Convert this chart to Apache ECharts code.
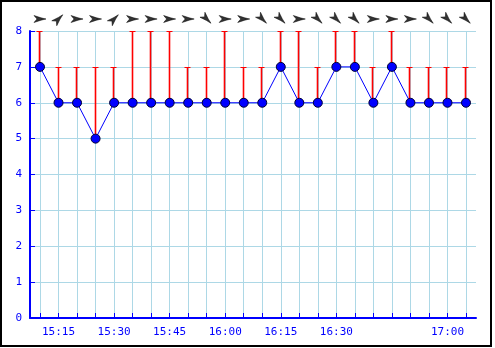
<!DOCTYPE html>
<html><head><meta charset="utf-8">
<script src="https://cdn.jsdelivr.net/npm/echarts@6/dist/echarts.min.js"></script>
<style>html,body{margin:0;padding:0;background:#fff}#c{width:495px;height:348px}</style>
</head><body><div id="c"></div>
<script>
// ---- data ----
const times = ['15:10','15:15','15:20','15:25','15:30','15:35','15:40','15:45','15:50','15:55',
               '16:00','16:05','16:10','16:15','16:20','16:25','16:30','16:35','16:40','16:45',
               '16:50','16:55','17:00','17:05'];
const speed = [7,6,6,5,6,6,6,6,6,6,6,6,6,7,6,6,7,7,6,7,6,6,6,6];
const gust  = [8,7,7,7,7,8,8,8,7,7,8,7,7,8,8,7,8,8,7,8,7,7,7,7];
const dirs  = ['E','NE','E','E','NE','E','E','E','E','SE','E','E','SE','SE','E','SE','SE','SE','E','E','E','SE','SE','SE'];
const xLabels = ['15:15','15:30','15:45','16:00','16:15','16:30','17:00'];
const yMin = 0, yMax = 8, yStep = 1;

// ---- helpers ----
const toMin = s => { const [h, m] = s.split(':').map(Number); return h * 60 + m; };
const fmt = v => { const r = Math.round(v); const h = Math.floor(r / 60), m = r % 60; return h + ':' + String(m).padStart(2, '0'); };
const xs = times.map(toMin);
const xMin = xs[0] - 2.7, xMax = xs[xs.length - 1] + 2.7;
const rot = { E: 0, NE: 45, SE: -45 };
const BLUE = '#0000ff', GRID = '#add8e6';
const font = { fontFamily: 'DejaVu Sans Mono', fontSize: 11, color: BLUE };

const chart = echarts.init(document.getElementById('c'), null, { renderer: 'canvas' });
chart.setOption({
  animation: false,
  backgroundColor: '#fff',
  graphic: [{ type: 'rect', shape: { x: 1, y: 1, width: 490, height: 345 }, style: { fill: 'none', stroke: '#000', lineWidth: 2 }, z: 100, silent: true }],
  grid: [
    { left: 30, right: 19, top: 31, bottom: 30 },
    { left: 30, right: 19, top: 11, height: 16 }
  ],
  xAxis: [
    {
      type: 'value', gridIndex: 0, min: xMin, max: xMax,
      splitNumber: 24, minInterval: 5, maxInterval: 5,
      axisLine: { lineStyle: { color: BLUE, width: 2 } },
      axisTick: { inside: true, length: 5, lineStyle: { color: BLUE, width: 1 } },
      axisLabel: Object.assign({
        margin: 9, showMinLabel: false, showMaxLabel: false,
        formatter: v => (Math.abs(v - Math.round(v)) < 1e-6 && xLabels.includes(fmt(v))) ? fmt(v) : ''
      }, font),
      splitLine: { show: true, showMinLine: false, showMaxLine: false, lineStyle: { color: GRID, width: 1 } }
    },
    { type: 'value', gridIndex: 1, min: xMin, max: xMax, show: false }
  ],
  yAxis: [
    {
      type: 'value', gridIndex: 0, min: yMin, max: yMax, interval: yStep,
      axisLine: { show: true, lineStyle: { color: BLUE, width: 2 } },
      axisTick: { show: true, inside: true, length: 5, lineStyle: { color: BLUE, width: 1 } },
      axisLabel: Object.assign({ margin: 8 }, font),
      splitLine: { show: true, lineStyle: { color: GRID, width: 1 } }
    },
    { type: 'value', gridIndex: 1, min: 0, max: 1, show: false }
  ],
  series: [
    {
      type: 'custom', xAxisIndex: 0, yAxisIndex: 0, z: 2, silent: true,
      data: xs.map((x, i) => [x, speed[i], gust[i]]),
      renderItem: (params, api) => {
        const p1 = api.coord([api.value(0), api.value(1)]);
        const p2 = api.coord([api.value(0), api.value(2)]);
        const px = Math.round(p1[0]) - 0.5;
        const ty = Math.round(p2[1]) + 0.5;
        return { type: 'group', children: [
          { type: 'line', shape: { x1: px, y1: p1[1], x2: px, y2: ty }, style: { stroke: '#ff0000', lineWidth: 1.6 } },
          { type: 'line', shape: { x1: px - 3, y1: ty, x2: px + 3, y2: ty }, style: { stroke: '#ff0000', lineWidth: 1 } }
        ] };
      }
    },
    {
      type: 'line', xAxisIndex: 0, yAxisIndex: 0, z: 3, silent: true,
      data: xs.map((x, i) => [x, speed[i]]),
      lineStyle: { color: BLUE, width: 1 },
      symbol: 'circle', symbolSize: 9,
      itemStyle: { color: BLUE, borderColor: '#000033', borderWidth: 1 }
    },
    {
      type: 'scatter', xAxisIndex: 1, yAxisIndex: 1, silent: true,
      symbol: 'path://M0,0 L7,2 L12,3 L7,4 L0,6 L3,3 Z',
      symbolSize: [12, 7],
      itemStyle: { color: '#000', borderColor: '#000', borderWidth: 0.6 },
      data: xs.map((x, i) => ({ value: [x, 0.5], symbolRotate: rot[dirs[i]] }))
    }
  ]
});
</script></body></html>
